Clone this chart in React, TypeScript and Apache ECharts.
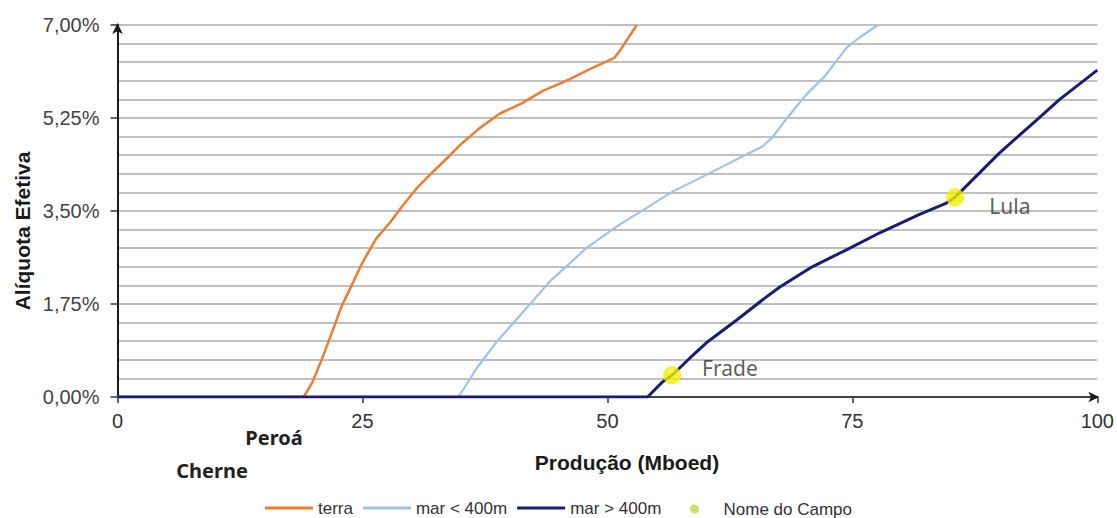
import React, { useEffect, useRef } from "react";
import * as echarts from "echarts";

// Data
const terra: [number, number][] = [
  [0, 0], [19.0, 0], [19.9, 0.28], [20.9, 0.73], [21.9, 1.22], [22.9, 1.72], [23.9, 2.10],
  [25.0, 2.53], [26.4, 2.98], [27.8, 3.28], [29.1, 3.60], [30.5, 3.92], [32.1, 4.22],
  [33.9, 4.54], [35.2, 4.78], [36.9, 5.05], [39.0, 5.33], [41.3, 5.53], [43.4, 5.76],
  [45.8, 5.95], [48.2, 6.17], [50.7, 6.38], [51.4, 6.55], [53.0, 7.0],
];
const marRaso: [number, number][] = [
  [0, 0], [34.8, 0], [36.7, 0.55], [38.7, 1.04], [41.4, 1.60], [44.1, 2.17], [47.9, 2.81],
  [51.2, 3.24], [54.0, 3.56], [56.6, 3.86], [60.1, 4.18], [63.5, 4.50], [65.8, 4.71],
  [66.8, 4.88], [68.6, 5.31], [70.3, 5.69], [72.3, 6.06], [74.4, 6.57], [75.7, 6.76], [77.6, 7.0],
];
const marProfundo: [number, number][] = [
  [0, 0], [54.1, 0], [55.6, 0.28], [56.6, 0.41], [58.4, 0.73], [60.1, 1.02], [63.2, 1.45],
  [66.2, 1.88], [67.6, 2.07], [70.9, 2.45], [74.4, 2.77], [77.8, 3.09], [81.8, 3.43],
  [84.6, 3.65], [85.5, 3.76], [90.0, 4.59], [93.8, 5.21], [96.1, 5.59], [100, 6.15],
];
const campos = ["Frade", "Lula"];
const camposX = [56.6, 85.5];
const camposY = [0.41, 3.76];
const camposForaDoGrafico = ["Peroá", "Cherne"];

const seriesNames = ["terra", "mar < 400m", "mar > 400m", "Nome do Campo"];

export default function App() {
  const ref = useRef<HTMLDivElement>(null);

  useEffect(() => {
    if (!ref.current) return;
    const chart = echarts.init(ref.current, undefined, { renderer: "svg" });
    const sans = "'Liberation Sans', Arial, sans-serif";
    const calibri = "'Noto Sans', 'Open Sans', sans-serif";

    const fmt = (v: number) => v.toFixed(2).replace(".", ",") + "%";
    const legendText = { fontFamily: sans, fontSize: 17, color: "#333333" };

    const option: any = {
      animation: false,
      backgroundColor: "#ffffff",
      grid: { left: 117.5, right: 19.5, top: 25, bottom: 121, containLabel: false },
      xAxis: {
        type: "value",
        min: 0,
        max: 100,
        interval: 25,
        axisLine: {
          show: true,
          onZero: false,
          symbol: ["none", "arrow"],
          symbolSize: [8, 11],
          symbolOffset: [0, 2],
          lineStyle: { color: "#1a1a1a", width: 1.5 },
        },
        axisTick: { show: true, length: 6, lineStyle: { color: "#333", width: 1.5 } },
        axisLabel: {
          margin: 14,
          color: "#333333",
          fontFamily: sans,
          fontSize: 20,
        },
        splitLine: { show: false },
      },
      yAxis: [
        {
          type: "value",
          min: 0,
          max: 7,
          interval: 1.75,
          axisLine: {
            show: true,
            onZero: false,
            symbol: ["none", "arrow"],
            symbolSize: [8, 11],
            symbolOffset: [0, 2],
            lineStyle: { color: "#1a1a1a", width: 2 },
          },
          axisTick: { show: true, length: 7, lineStyle: { color: "#333", width: 1.5 } },
          axisLabel: {
            margin: 18,
            color: "#444444",
            fontFamily: sans,
            fontSize: 20,
            formatter: fmt,
          },
          splitLine: { show: false },
          z: 3,
        },
        {
          type: "value",
          min: 0,
          max: 7,
          interval: 0.35,
          position: "left",
          axisLine: { show: false },
          axisTick: { show: false },
          axisLabel: { show: false },
          splitLine: { show: true, lineStyle: { color: "#c0c0c0", width: 2 } },
        },
      ],
      legend: [
        {
          left: 265,
          top: 499.5,
          padding: 0,
          itemWidth: 48,
          itemHeight: 3,
          itemGap: 10,
          icon: "rect",
          textStyle: legendText,
          data: [seriesNames[0], seriesNames[1], seriesNames[2]],
        },
        {
          left: 690,
          top: 500.5,
          padding: 0,
          itemWidth: 48,
          itemHeight: 9,
          textStyle: legendText,
          data: [{ name: seriesNames[3], icon: "circle", itemStyle: { color: "#c2d63c" } }],
        },
      ],
      graphic: [
        {
          type: "text",
          x: 22,
          y: 231,
          rotation: Math.PI / 2,
          style: {
            text: "Alíquota Efetiva",
            font: `bold 21px ${sans}`,
            fill: "#1a1a1a",
            align: "center",
            verticalAlign: "middle",
          },
        },
        {
          type: "text",
          x: 627,
          y: 462,
          style: {
            text: "Produção (Mboed)",
            font: `bold 21px ${sans}`,
            fill: "#1a1a1a",
            align: "center",
            verticalAlign: "middle",
          },
        },
        {
          type: "text",
          x: 274,
          y: 437,
          style: {
            text: camposForaDoGrafico[0],
            font: `bold 20px ${calibri}`,
            fill: "#222222",
            align: "center",
            verticalAlign: "middle",
          },
        },
        {
          type: "text",
          x: 212,
          y: 470,
          style: {
            text: camposForaDoGrafico[1],
            font: `bold 20px ${calibri}`,
            fill: "#222222",
            align: "center",
            verticalAlign: "middle",
          },
        },
      ],
      series: [
        {
          name: seriesNames[0],
          type: "line",
          data: terra,
          symbol: "none",
          lineStyle: { color: "#ed7d31", width: 2.5 },
          itemStyle: { color: "#ed7d31" },
          z: 2,
        },
        {
          name: seriesNames[1],
          type: "line",
          data: marRaso,
          symbol: "none",
          lineStyle: { color: "#9dc3e6", width: 2.2 },
          itemStyle: { color: "#9dc3e6" },
          z: 3,
        },
        {
          name: seriesNames[2],
          type: "line",
          data: marProfundo,
          symbol: "none",
          lineStyle: { color: "#1b1b72", width: 3 },
          itemStyle: { color: "#1b1b72" },
          z: 4,
        },
        {
          name: seriesNames[3],
          type: "scatter",
          symbolSize: 18,
          itemStyle: { color: "#f2ef00" },
          z: 5,
          label: {
            show: true,
            position: "right",
            formatter: (p: any) => p.name,
            fontFamily: calibri,
            fontSize: 21,
            color: "#333333",
          },
          data: campos.map((n, i) => ({
            name: n,
            value: [camposX[i], camposY[i]],
            label: i === 0 ? { distance: 21, offset: [0, -7] } : { distance: 25, offset: [0, 9] },
          })),
        },
      ],
    };

    chart.setOption(option);
    return () => chart.dispose();
  }, []);

  return (
    <div
      ref={ref}
      style={{ position: "absolute", left: 0, top: 0, width: 1117, height: 518 }}
    />
  );
}
